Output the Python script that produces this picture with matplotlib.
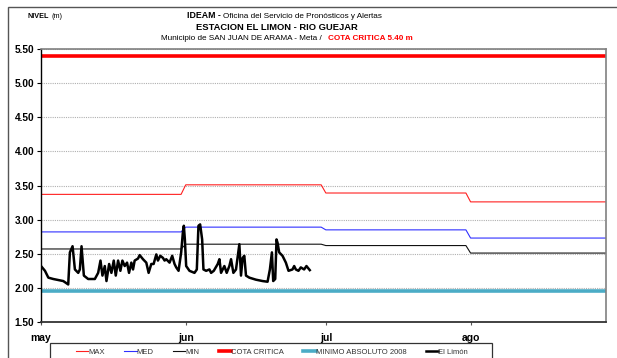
import numpy as np
import matplotlib
import matplotlib.pyplot as plt
from matplotlib.patches import Rectangle

matplotlib.use('agg')

plt.rcParams['font.family'] = ['Liberation Sans', 'DejaVu Sans']

# day index: 0 = 1 may
month_start = [0, 31, 61, 92]
month_end = [30, 60, 91, 121]
month_labels = ['may', 'jun', 'jul', 'ago']

# monthly reference levels (m)
nivel_max = [3.37, 3.51, 3.39, 3.26]
nivel_med = [2.82, 2.89, 2.85, 2.73]
nivel_min = [2.57, 2.64, 2.62, 2.51]
cota_critica = 5.40
minimo_abs_2008 = 1.95

# El Limón readings (day index, level in m)
limon_dia = [0.0, 0.85, 1.57, 2.63, 4.77, 5.83, 6.19, 6.76, 7.26, 7.97,
             8.32, 8.68, 9.18, 10.10, 11.53, 12.24, 12.74, 13.16, 13.66, 14.02,
             14.59, 15.08, 15.58, 16.01, 16.51, 17.00, 17.43, 17.93, 18.43, 18.85,
             19.35, 19.71, 20.06, 20.78, 21.13, 21.84, 22.55, 23.05, 23.62, 24.12,
             24.69, 25.04, 25.54, 26.11, 26.47, 26.82, 27.53, 28.10, 28.60, 28.96,
             29.46, 30.02, 30.38, 30.59, 30.81, 31.09, 31.80, 32.87, 33.37, 33.72,
             34.08, 34.51, 34.79, 35.36, 36.07, 36.43, 37.00, 37.85, 38.21, 38.56,
             39.27, 39.77, 40.34, 40.70, 41.20, 41.76, 42.48, 42.83, 43.19, 43.54,
             43.90, 44.61, 46.03, 47.46, 48.52, 49.02, 49.45, 49.73, 50.16, 50.44,
             50.66, 51.01, 51.72, 52.44, 53.01, 53.86, 54.22, 54.57, 55.14, 55.64,
             56.35, 56.85, 57.56]
limon_nivel = [2.32, 2.25, 2.15, 2.13, 2.10, 2.05, 2.52, 2.61, 2.27, 2.22,
               2.27, 2.61, 2.18, 2.13, 2.13, 2.22, 2.40, 2.18, 2.32, 2.10,
               2.35, 2.22, 2.40, 2.18, 2.40, 2.25, 2.40, 2.32, 2.37, 2.22,
               2.37, 2.27, 2.40, 2.43, 2.48, 2.42, 2.37, 2.22, 2.35, 2.35,
               2.49, 2.40, 2.47, 2.44, 2.40, 2.42, 2.37, 2.47, 2.35, 2.30,
               2.25, 2.52, 2.81, 2.91, 2.71, 2.32, 2.25, 2.22, 2.27, 2.91,
               2.93, 2.71, 2.27, 2.25, 2.27, 2.22, 2.25, 2.35, 2.42, 2.22,
               2.32, 2.22, 2.32, 2.42, 2.22, 2.27, 2.64, 2.18, 2.44, 2.47,
               2.18, 2.15, 2.12, 2.10, 2.09, 2.27, 2.52, 2.10, 2.13, 2.71,
               2.66, 2.52, 2.47, 2.37, 2.25, 2.27, 2.32, 2.27, 2.25, 2.30,
               2.27, 2.32, 2.26]


def monthly(vals):
    xs, ys = [], []
    for s, e, v in zip(month_start, month_end, vals):
        xs += [s, e]
        ys += [v, v]
    return xs, ys


def px(x, y):
    return x/617, 1-y/358


fig = plt.figure(figsize=(6.17, 3.58), dpi=100)
ax = fig.add_axes([41/617, 1-322/358, (606-41)/617, (322-49)/358])

xd = [month_start[0], month_end[-1]]
l_max, = ax.plot(*monthly(nivel_max), c='#ff2020', lw=0.8, label='MAX')
l_med, = ax.plot(*monthly(nivel_med), c='#3030ff', lw=0.8, label='MED')
l_min, = ax.plot(*monthly(nivel_min), c='#111111', lw=0.8, label='MIN')
l_cota, = ax.plot(xd, [cota_critica]*2, c='#ff0000', lw=2.6, label='COTA CRITICA')
l_minabs, = ax.plot(xd, [minimo_abs_2008]*2, c='#4bacc6', lw=2.6, label='MINIMO ABSOLUTO 2008')
l_limon, = ax.plot(limon_dia, limon_nivel, c='black', lw=1.8, label='El Limón')

ax.set_xlim(0, 121)
ax.set_ylim(1.5, 5.5)
ax.set_yticks(np.arange(1.5, 5.51, 0.5))
ax.set_yticklabels([f"{v:.2f}" for v in np.arange(1.5, 5.51, 0.5)],
                   fontweight='bold', fontsize=7.3)
ax.set_xticks(month_start)
ax.set_xticklabels(month_labels, fontweight='bold', fontsize=7.5)
ax.tick_params(axis='y', length=3, width=0.8, pad=2)
ax.tick_params(axis='x', length=2, width=0.8, pad=6, color='#555555')
ax.yaxis.grid(True, ls=(0, (1, 1)), c='#b0b0b0', lw=0.8)
ax.set_axisbelow(True)
for side in ['top', 'right']:
    ax.spines[side].set_color('#808080')
    ax.spines[side].set_linewidth(1.2)
ax.spines['left'].set_linewidth(1.0)
ax.spines['bottom'].set_linewidth(1.3)
ax.spines['bottom'].set_color('#333333')

# outer chart frame
fig.add_artist(Rectangle((8/617, -0.5), 2, 1-7/358+0.5, transform=fig.transFigure,
                         fill=False, ec='#555555', lw=1.0, clip_on=False))

# titles
fig.text(*px(28, 16), 'NIVEL', fontsize=5.2, fontweight='bold', va='center')
fig.text(*px(51, 16), '(m)', fontsize=5.2, va='center')
fig.text(*px(221, 16), 'IDEAM -', fontsize=6.3, fontweight='bold', ha='right', va='center')
fig.text(*px(223, 16), 'Oficina del Servicio de Pronósticos y Alertas', fontsize=5.9, ha='left', va='center')
fig.text(*px(277, 28), 'ESTACION EL LIMON - RIO GUEJAR', fontsize=6.75, fontweight='bold', ha='center', va='center')
fig.text(*px(322, 39), 'Municipio de SAN JUAN DE ARAMA - Meta /', fontsize=5.9, ha='right', va='center')
fig.text(*px(328, 39), 'COTA CRITICA 5.40 m', fontsize=5.9, fontweight='bold', color='#ff0000', ha='left', va='center')

# legend box
fig.add_artist(Rectangle(px(50, 400), (492-50)/617, 57/358, transform=fig.transFigure,
                         fill=False, ec='#333333', lw=0.9, clip_on=False))
leg = fig.legend(handles=[l_max, l_med, l_min, l_cota, l_minabs, l_limon],
                 loc='center left', bbox_to_anchor=px(76, 352), ncol=6,
                 fontsize=5.5, handlelength=1.6, handletextpad=0.0,
                 columnspacing=2.55, frameon=False,
                 borderpad=0, borderaxespad=0)
for t in leg.get_texts():
    t.set_color('#333333')

fig.savefig('out.png', dpi=100)
